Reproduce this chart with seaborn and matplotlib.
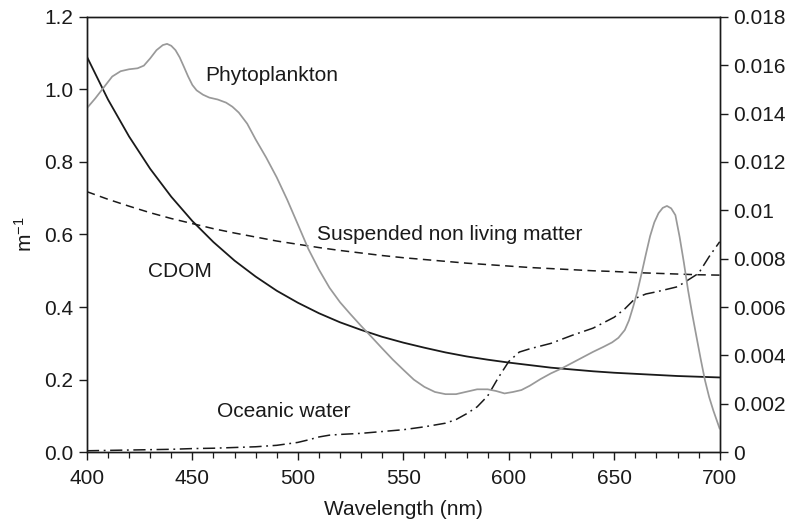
import numpy as np
import pandas as pd
import matplotlib
matplotlib.use("Agg")
import matplotlib.pyplot as plt
from matplotlib.ticker import MultipleLocator, FuncFormatter
import seaborn as sns

# Absorption spectra (m^-1) on the left axis
wl_10 = [400, 410, 420, 430, 440, 450, 460, 470, 480, 490, 500, 510, 520, 530,
         540, 550, 560, 570, 580, 590, 600, 610, 620, 630, 640, 650, 660, 670,
         680, 690, 700]
cdom = [1.090, 0.972, 0.870, 0.781, 0.704, 0.637, 0.579, 0.528, 0.484, 0.445,
        0.412, 0.383, 0.358, 0.337, 0.318, 0.302, 0.288, 0.275, 0.264, 0.255,
        0.247, 0.240, 0.233, 0.228, 0.223, 0.219, 0.216, 0.213, 0.210, 0.208,
        0.206]
snlm = [0.718, 0.697, 0.678, 0.660, 0.644, 0.630, 0.616, 0.604, 0.593, 0.582,
        0.573, 0.564, 0.556, 0.549, 0.542, 0.536, 0.531, 0.526, 0.521, 0.517,
        0.513, 0.509, 0.506, 0.503, 0.500, 0.498, 0.495, 0.493, 0.491, 0.489,
        0.488]

wl_water = [400, 410, 420, 430, 440, 450, 460, 470, 480, 490, 500, 505, 510,
            515, 520, 530, 540, 550, 560, 570, 575, 580, 585, 590, 595, 600,
            605, 610, 620, 630, 640, 650, 655, 660, 665, 670, 680, 690, 695, 700]
water = [0.004, 0.005, 0.006, 0.007, 0.008, 0.010, 0.011, 0.013, 0.015, 0.019,
         0.027, 0.034, 0.042, 0.047, 0.049, 0.052, 0.057, 0.062, 0.070, 0.080,
         0.090, 0.106, 0.125, 0.155, 0.205, 0.250, 0.276, 0.285, 0.300, 0.322,
         0.342, 0.372, 0.395, 0.424, 0.436, 0.442, 0.456, 0.493, 0.539, 0.580]

# Phytoplankton specific absorption on the right axis
wl_phyto = [400, 404, 408, 412, 416, 420, 424, 427, 430, 433, 436, 438, 440,
            442, 444, 446, 448, 450, 452, 455, 458, 462, 466, 469, 472, 476,
            480, 485, 490, 495, 500, 505, 510, 515, 520, 525, 530, 535, 540,
            545, 550, 555, 560, 565, 570, 575, 580, 585, 590, 594, 598, 602,
            606, 610, 615, 620, 625, 630, 635, 640, 645, 649, 652, 655, 657,
            659, 661, 663, 665, 667, 669, 671, 673, 675, 677, 679, 681, 683,
            685, 687, 689, 691, 693, 695, 697, 700]
phyto = [0.01422, 0.01463, 0.01508, 0.01553, 0.01575, 0.01583, 0.01587,
         0.01598, 0.01628, 0.01662, 0.01683, 0.01688, 0.01680, 0.01662,
         0.01632, 0.01593, 0.01553, 0.01518, 0.01496, 0.01478, 0.01466,
         0.01458, 0.01445, 0.01428, 0.01404, 0.01358, 0.01293, 0.01218,
         0.01136, 0.01043, 0.00942, 0.00840, 0.00755, 0.00680, 0.00620,
         0.00570, 0.00522, 0.00476, 0.00429, 0.00383, 0.00341, 0.00300,
         0.00270, 0.00249, 0.00240, 0.00240, 0.00250, 0.00260, 0.00260,
         0.00253, 0.00243, 0.00249, 0.00257, 0.00275, 0.00302, 0.00326,
         0.00346, 0.00369, 0.00392, 0.00415, 0.00436, 0.00454, 0.00473,
         0.00505, 0.00545, 0.00602, 0.00665, 0.00740, 0.00818, 0.00893,
         0.00950, 0.00988, 0.01010, 0.01018, 0.01008, 0.00980, 0.00890,
         0.00785, 0.00670, 0.00570, 0.00477, 0.00385, 0.00298, 0.00228,
         0.00172, 0.00097]

df_abs = pd.DataFrame({"wl": wl_10, "CDOM": cdom, "SNLM": snlm})
df_water = pd.DataFrame({"wl": wl_water, "a": water})
df_phyto = pd.DataFrame({"wl": wl_phyto, "a": phyto})

sns.set_theme(style="ticks")
plt.rcParams["font.family"] = ["Liberation Sans", "DejaVu Sans"]
plt.rcParams["mathtext.fontset"] = "custom"
plt.rcParams["mathtext.rm"] = "Liberation Sans"
plt.rcParams["mathtext.it"] = "Liberation Sans:italic"

FS = 15
fig = plt.figure(figsize=(7.9, 5.24), dpi=100)
ax = fig.add_axes([0.110, 0.137, 0.801, 0.831])
ax2 = ax.twinx()

black = "#1a1a1a"
grey = "#999999"

sns.lineplot(data=df_abs, x="wl", y="CDOM", ax=ax, color=black, lw=1.3)
sns.lineplot(data=df_abs, x="wl", y="SNLM", ax=ax, color=black, lw=1.1,
             linestyle=(0, (5.5, 3.5)))
sns.lineplot(data=df_water, x="wl", y="a", ax=ax, color=black, lw=1.1,
             linestyle=(0, (8, 3, 1.2, 3)))
sns.lineplot(data=df_phyto, x="wl", y="a", ax=ax2, color=grey, lw=1.25)

ax.set_xlim(400, 700)
ax.set_ylim(0, 1.2)
ax2.set_ylim(0, 0.018)

ax.xaxis.set_major_locator(MultipleLocator(50))
ax.xaxis.set_minor_locator(MultipleLocator(10))
ax.yaxis.set_major_locator(MultipleLocator(0.2))
ax.yaxis.set_major_formatter(FuncFormatter(lambda v, p: f"{v:.1f}"))
ax2.yaxis.set_major_locator(MultipleLocator(0.002))
ax2.yaxis.set_major_formatter(
    FuncFormatter(lambda v, p: f"{v:.3f}".rstrip("0").rstrip(".") if v > 0 else "0"))

for a in (ax, ax2):
    for s in a.spines.values():
        s.set_color(black)
        s.set_linewidth(1.0)
    a.tick_params(axis="both", which="major", direction="out", length=6,
                  width=1.0, color=black, labelsize=FS, labelcolor=black, pad=4)
    a.tick_params(axis="both", which="minor", direction="out", length=4,
                  width=0.9, color=black)

ax.set_xlabel("Wavelength (nm)", fontsize=FS, color=black, labelpad=9)
ax.set_ylabel("m$^{-1}$", fontsize=FS, color=black, labelpad=6)
ax2.set_ylabel("")
ax.tick_params(axis="x", pad=6)

ax.text(456, 1.024, "Phytoplankton", fontsize=FS, color=black, ha="left", va="baseline")
ax.text(509, 0.586, "Suspended non living matter", fontsize=FS, color=black,
        ha="left", va="baseline")
ax.text(429.2, 0.484, "CDOM", fontsize=FS, color=black, ha="left", va="baseline")
ax.text(461.6, 0.098, "Oceanic water", fontsize=FS, color=black, ha="left", va="baseline")

fig.savefig("out.png", dpi=100)
